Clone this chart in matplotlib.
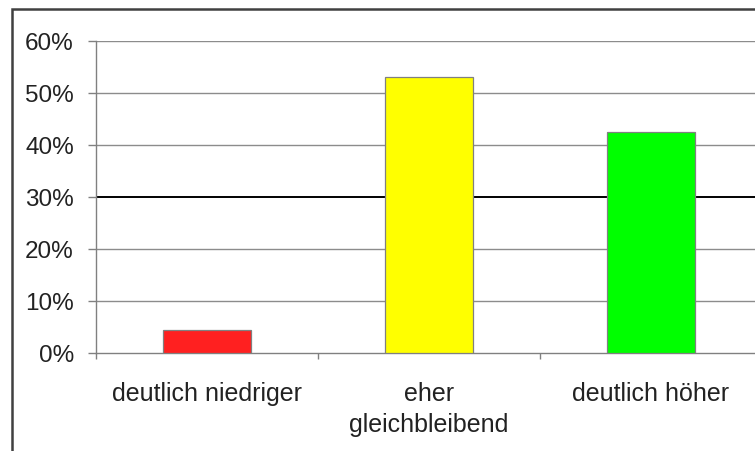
import matplotlib.pyplot as plt
from matplotlib.patches import Rectangle
from matplotlib.ticker import PercentFormatter
import numpy as np

plt.rcParams["font.family"] = ["Liberation Sans", "DejaVu Sans"]

categories = ["deutlich niedriger", "eher\ngleichbleibend", "deutlich höher"]
shares = [0.044, 0.531, 0.425]
bar_colors = ["#ff2020", "#ffff00", "#00ff00"]
y_ticks = [0.0, 0.1, 0.2, 0.3, 0.4, 0.5, 0.6]

W, H = 755, 452
fig = plt.figure(figsize=(W / 100, H / 100), dpi=100)

# outer frame of the chart object, runs off to the right and bottom
fig.patches.append(Rectangle((12 / W, -0.1), 1.2, 1 - 10 / H + 0.1,
                             transform=fig.transFigure, fill=False,
                             edgecolor="#404040", linewidth=1.8))

ax = fig.add_axes([96 / W, 1 - 354 / H, 666 / W, 312 / H])

x = np.arange(len(categories))
ax.bar(x, shares, width=0.4, color=bar_colors, edgecolor="#808080",
       linewidth=0.9, zorder=3)

ax.set_xlim(-0.5, len(categories) - 0.5)
ax.set_ylim(0, 0.6)
ax.set_yticks(y_ticks)
ax.yaxis.set_major_formatter(PercentFormatter(1.0, decimals=0))

for yv in y_ticks[1:]:
    if abs(yv - 0.3) < 1e-9:
        ax.axhline(yv, color="black", linewidth=1.4, zorder=1)
    else:
        ax.axhline(yv, color="#8c8c8c", linewidth=1.0, zorder=1)

# category boundaries get the ticks, labels sit between them
ax.set_xticks(np.arange(-0.5, len(categories), 1.0))
ax.set_xticklabels([])
ax.set_xticks(x, minor=True)
ax.set_xticklabels(categories, minor=True, fontsize=18, color="#222222",
                   linespacing=1.4)
ax.tick_params(axis="x", which="major", length=4, color="#808080", width=1)
ax.tick_params(axis="x", which="minor", length=0, pad=20)
ax.tick_params(axis="y", length=6, color="#808080", width=1, pad=10,
               labelsize=17.5, labelcolor="#222222")

for side in ["top", "right"]:
    ax.spines[side].set_visible(False)
for side in ["left", "bottom"]:
    ax.spines[side].set_color("#808080")
    ax.spines[side].set_linewidth(1.0)

fig.savefig("out.png", dpi=100)
